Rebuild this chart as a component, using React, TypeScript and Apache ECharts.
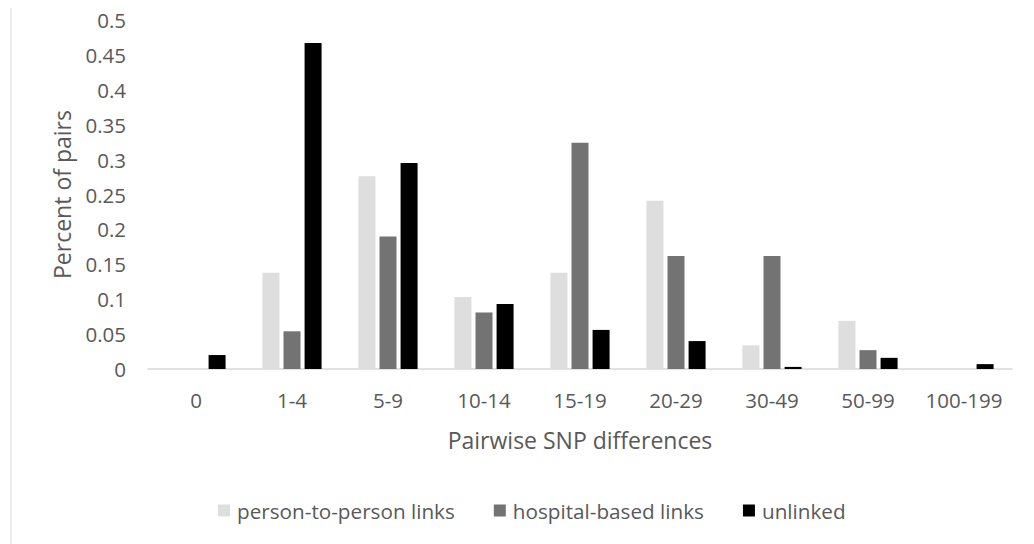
import React, { useEffect, useRef } from "react";
import * as echarts from "echarts";

const categories = ["0", "1-4", "5-9", "10-14", "15-19", "20-29", "30-49", "50-99", "100-199"];
const personToPerson = [0, 0.138, 0.276, 0.103, 0.138, 0.241, 0.034, 0.069, 0];
const hospitalBased = [0, 0.054, 0.19, 0.081, 0.324, 0.162, 0.162, 0.027, 0];
const unlinked = [0.02, 0.467, 0.295, 0.093, 0.056, 0.04, 0.003, 0.016, 0.007];
const seriesNames = ["person-to-person links", "hospital-based links", "unlinked"];
const yTicks = { min: 0, max: 0.5, interval: 0.05 };

const FONT = "Open Sans";
const TXT = "#595959";

export default function App() {
  const ref = useRef<HTMLDivElement>(null);
  useEffect(() => {
    if (!ref.current) return;
    const chart = echarts.init(ref.current, undefined, { renderer: "svg" });
    chart.setOption({
      animation: false,
      backgroundColor: "#ffffff",
      textStyle: { fontFamily: FONT },
      grid: { left: 148, right: 22, top: 20, bottom: 175, containLabel: false },
      graphic: [
        {
          type: "line",
          shape: { x1: 11, y1: 8, x2: 11, y2: 544 },
          style: { stroke: "#d9d9d9", lineWidth: 1 },
        },
      ],
      legend: {
        left: 218,
        top: 500,
        padding: 0,
        itemWidth: 12,
        itemHeight: 12,
        itemGap: 39,
        icon: "rect",
        textStyle: { fontFamily: FONT, fontSize: 20.7, color: TXT, padding: [0, 0, 0, 2] },
        data: seriesNames,
      },
      xAxis: {
        type: "category",
        data: categories,
        axisLine: { lineStyle: { color: "#d9d9d9", width: 1.5 } },
        axisTick: { show: false },
        axisLabel: { fontFamily: FONT, fontSize: 20.5, color: TXT, margin: 20, interval: 0, hideOverlap: false },
        name: "Pairwise SNP differences",
        nameLocation: "middle",
        nameGap: 59,
        nameTextStyle: { fontFamily: FONT, fontSize: 23, color: TXT },
      },
      yAxis: {
        type: "value",
        min: yTicks.min,
        max: yTicks.max,
        interval: yTicks.interval,
        splitLine: { show: false },
        axisLine: { show: false },
        axisTick: { show: false },
        axisLabel: {
          fontFamily: FONT,
          fontSize: 20.5,
          color: TXT,
          margin: 22,
          formatter: (v: number) => String(parseFloat(v.toFixed(2))),
        },
        name: "Percent of pairs",
        nameLocation: "middle",
        nameGap: 75,
        nameRotate: 90,
        nameTextStyle: { fontFamily: FONT, fontSize: 23, color: TXT },
      },
      series: [
        {
          name: seriesNames[0],
          type: "bar",
          data: personToPerson,
          barWidth: 17,
          barGap: "24%",
          itemStyle: { color: "#dedede" },
        },
        {
          name: seriesNames[1],
          type: "bar",
          data: hospitalBased,
          barWidth: 17,
          barGap: "24%",
          itemStyle: { color: "#737373" },
        },
        {
          name: seriesNames[2],
          type: "bar",
          data: unlinked,
          barWidth: 17,
          barGap: "24%",
          itemStyle: { color: "#000000" },
        },
      ],
    });
    return () => chart.dispose();
  }, []);
  return (
    <div
      ref={ref}
      style={{ position: "absolute", left: 0, top: 0, width: 1034, height: 544, background: "#fff" }}
    />
  );
}
